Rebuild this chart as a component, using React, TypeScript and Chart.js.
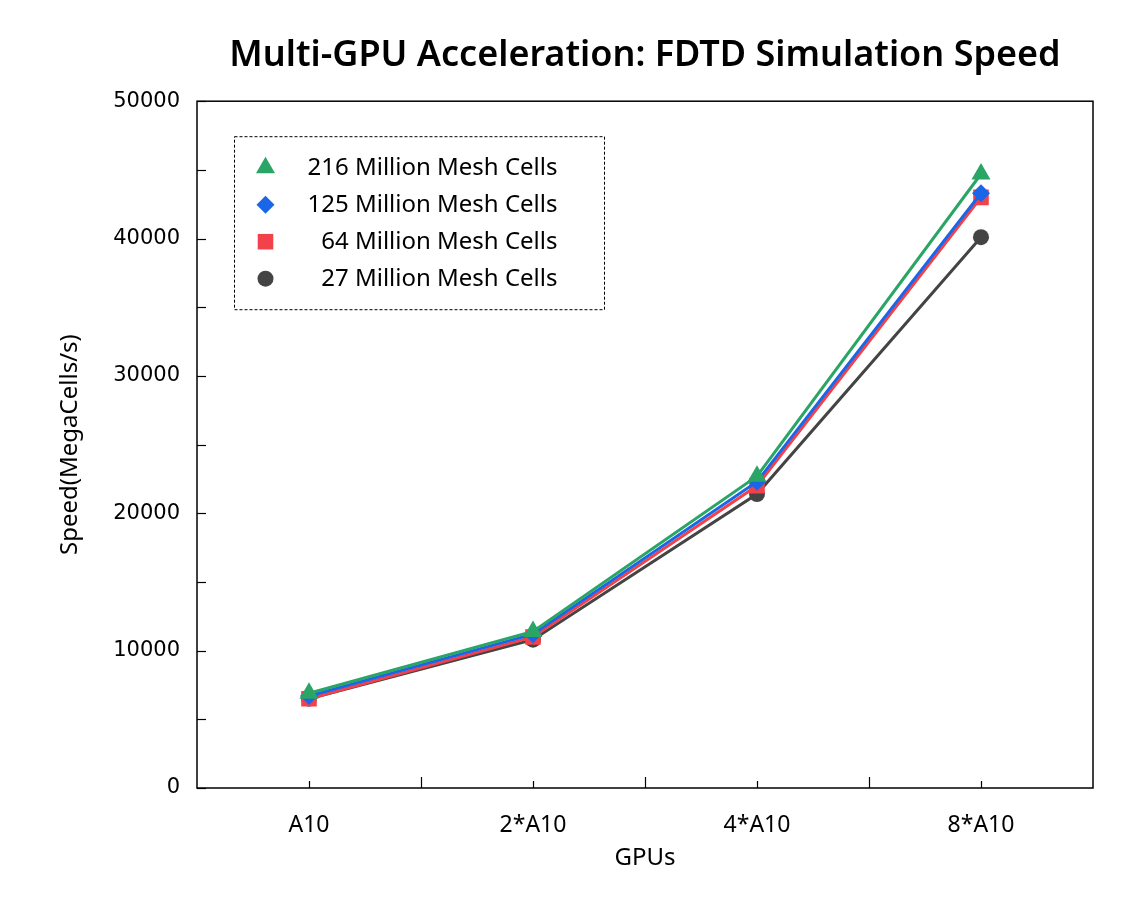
import React, { useEffect, useRef } from "react";
import { Chart, registerables } from "chart.js";

Chart.register(...registerables);

const categories = ["A10", "2*A10", "4*A10", "8*A10"];
const seriesNames = [
  "216 Million Mesh Cells",
  "125 Million Mesh Cells",
  "64 Million Mesh Cells",
  "27 Million Mesh Cells",
];
const values216 = [6900, 11400, 22700, 44700];
const values125 = [6700, 11200, 22300, 43300];
const values64 = [6500, 11000, 22000, 43000];
const values27 = [6500, 10800, 21400, 40100];
const yTicks = [0, 10000, 20000, 30000, 40000, 50000];

const colors = ["#2BA565", "#1A66E8", "#F2414A", "#444444"];
const styles = ["triangle", "rectRot", "rect", "circle"];
const radii = [11, 9, 11, 8];

function drawMarker(ctx: CanvasRenderingContext2D, style: string, x: number, y: number, r: number) {
  ctx.beginPath();
  if (style === "triangle") {
    for (let i = 0; i < 3; i++) {
      const a = -Math.PI / 2 + (i * 2 * Math.PI) / 3;
      const px = x + Math.cos(a) * r;
      const py = y + Math.sin(a) * r;
      if (i === 0) ctx.moveTo(px, py);
      else ctx.lineTo(px, py);
    }
    ctx.closePath();
  } else if (style === "rectRot") {
    ctx.moveTo(x - r, y);
    ctx.lineTo(x, y - r);
    ctx.lineTo(x + r, y);
    ctx.lineTo(x, y + r);
    ctx.closePath();
  } else if (style === "rect") {
    const s = Math.SQRT1_2 * r;
    ctx.rect(x - s, y - s, 2 * s, 2 * s);
  } else {
    ctx.arc(x, y, r, 0, Math.PI * 2);
  }
  ctx.fill();
}

const framePlugin = {
  id: "frameAndLegend",
  afterDraw(chart: any) {
    const { ctx, chartArea, scales } = chart;
    const { left, right, top, bottom } = chartArea;
    ctx.save();
    // frame
    ctx.strokeStyle = "#000";
    ctx.lineWidth = 1.5;
    ctx.strokeRect(left, top, right - left, bottom - top);
    // y ticks (inward)
    const y = scales.y;
    ctx.lineWidth = 1.2;
    for (let v = 0; v <= 50000; v += 5000) {
      const py = Math.round(y.getPixelForValue(v)) + 0.5;
      ctx.beginPath();
      ctx.moveTo(left, py);
      ctx.lineTo(left + 9, py);
      ctx.stroke();
    }
    // x ticks (inward)
    const x = scales.x;
    for (let i = 0; i < categories.length; i++) {
      const px = Math.round(x.getPixelForValue(i)) + 0.5;
      ctx.beginPath();
      ctx.moveTo(px, bottom);
      ctx.lineTo(px, bottom - 7);
      ctx.stroke();
      if (i < categories.length - 1) {
        const pm = Math.round(x.getPixelForValue(i + 0.5)) + 0.5;
        ctx.beginPath();
        ctx.moveTo(pm, bottom);
        ctx.lineTo(pm, bottom - 11);
        ctx.stroke();
      }
    }
    // legend
    const bx = left + 37.5;
    const by = top + 35.5;
    const bw = 370;
    const bh = 173;
    ctx.setLineDash([3, 2]);
    ctx.lineWidth = 1;
    ctx.strokeStyle = "#000";
    ctx.strokeRect(bx, by, bw, bh);
    ctx.setLineDash([]);
    ctx.font = "24px 'Noto Sans', sans-serif";
    ctx.textAlign = "right";
    ctx.textBaseline = "middle";
    for (let i = 0; i < seriesNames.length; i++) {
      const ry = by + 31 + i * 37;
      ctx.fillStyle = colors[i];
      drawMarker(ctx, styles[i], bx + 31, ry, radii[i]);
      ctx.fillStyle = "#000";
      ctx.fillText(seriesNames[i], bx + 323, ry);
    }
    ctx.restore();
  },
};

export default function App() {
  const ref = useRef<HTMLCanvasElement | null>(null);
  useEffect(() => {
    document.body.style.margin = "0";
    const all = [values216, values125, values64, values27];
    const chart = new Chart(ref.current as HTMLCanvasElement, {
      type: "line",
      data: {
        labels: categories,
        datasets: all.map((vals, i) => ({
          label: seriesNames[i],
          data: vals,
          borderColor: colors[i],
          backgroundColor: colors[i],
          borderWidth: 3,
          pointStyle: styles[i] as any,
          pointRadius: radii[i],
          pointBorderWidth: 0,
          pointBackgroundColor: colors[i],
          tension: 0,
        })),
      },
      options: {
        responsive: false,
        animation: false,
        layout: { padding: { left: 0, right: 39, top: 0, bottom: 0 } },
        plugins: {
          legend: { display: false },
          tooltip: { enabled: false },
          title: {
            display: true,
            fullSize: false,
            text: "Multi-GPU Acceleration: FDTD Simulation Speed",
            color: "#000",
            font: { family: "'Noto Sans', sans-serif", size: 36, weight: "600" as any, lineHeight: 1.2 },
            padding: { top: 34, bottom: 24 },
          },
        },
        scales: {
          x: {
            type: "category",
            offset: true,
            grid: { display: false, drawTicks: false },
            border: { display: false },
            ticks: {
              color: "#000",
              padding: 24,
              font: { family: "'Noto Sans', sans-serif", size: 23 },
            },
            title: {
              display: true,
              text: "GPUs",
              color: "#000",
              font: { family: "'Noto Sans', sans-serif", size: 24 },
              padding: { top: 2, bottom: 27 },
            },
            afterFit(scale: any) {
              scale.height = 112;
            },
          },
          y: {
            min: 0,
            max: 50000,
            afterBuildTicks(scale: any) {
              scale.ticks = yTicks.map((v) => ({ value: v }));
            },
            grid: { display: false, drawTicks: false },
            border: { display: false },
            ticks: {
              color: "#000",
              padding: 17,
              font: { family: "'DejaVu Sans', sans-serif", size: 21 },
              callback: (v: any) => String(v),
            },
            title: {
              display: true,
              text: "Speed(MegaCells/s)",
              color: "#000",
              font: { family: "'Noto Sans', sans-serif", size: 24 },
              padding: { top: 56, bottom: 0 },
            },
            afterFit(scale: any) {
              scale.width = 197;
            },
          },
        },
      },
      plugins: [framePlugin],
    });
    return () => chart.destroy();
  }, []);
  return (
    <div style={{ width: 1132, height: 900, background: "#fff" }}>
      <canvas ref={ref} width={1132} height={900} style={{ display: "block" }} />
    </div>
  );
}
